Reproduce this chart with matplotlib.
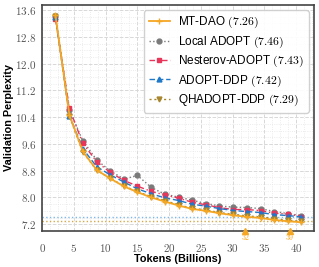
import matplotlib
matplotlib.use("Agg")
import matplotlib.pyplot as plt
from matplotlib.ticker import FuncFormatter, MultipleLocator, AutoMinorLocator

plt.rcParams['mathtext.fontset'] = 'cm'
plt.rcParams['font.family'] = ['Liberation Sans', 'DejaVu Sans']

# Данные (по картинке)
tokens = [2.1, 4.3, 6.4, 8.6, 10.7, 12.9, 15.0, 17.2, 19.3, 21.5,
          23.6, 25.8, 27.9, 30.1, 32.2, 34.4, 36.5, 38.7, 40.8]

mt_dao = [13.44, 10.47, 9.38, 8.82, 8.57, 8.33, 8.16, 8.00, 7.88, 7.76,
          7.66, 7.60, 7.53, 7.47, 7.42, 7.39, 7.33, 7.29, 7.26]
local_adopt = [13.42, 10.62, 9.70, 9.12, 8.80, 8.55, 8.66, 8.30, 8.10, 8.01,
               7.92, 7.82, 7.75, 7.71, 7.70, 7.67, 7.58, 7.52, 7.46]
nesterov = [13.33, 10.66, 9.62, 9.07, 8.75, 8.51, 8.34, 8.18, 8.08, 7.98,
            7.86, 7.78, 7.70, 7.64, 7.64, 7.61, 7.53, 7.51, 7.43]
adopt_ddp = [13.40, 10.45, 9.46, 8.92, 8.68, 8.46, 8.26, 8.11, 7.99, 7.91,
             7.80, 7.74, 7.67, 7.61, 7.58, 7.55, 7.49, 7.46, 7.42]
qhadopt = [13.42, 10.43, 9.36, 8.81, 8.58, 8.34, 8.18, 8.02, 7.91, 7.78,
           7.68, 7.63, 7.55, 7.50, 7.45, 7.42, 7.37, 7.32, 7.29]

series = [
    ("MT-DAO", mt_dao, 7.26),
    ("Local ADOPT", local_adopt, 7.46),
    ("Nesterov-ADOPT", nesterov, 7.43),
    ("ADOPT-DDP", adopt_ddp, 7.42),
    ("QHADOPT-DDP", qhadopt, 7.29),
]
styles = [
    dict(color='#F5A623', ls='-', marker='+', lw=1.3, ms=4, zorder=6),
    dict(color='#7A7A7A', ls=':', marker='o', lw=1.0, ms=3.5, zorder=3),
    dict(color='#E8365A', ls=(0, (4, 2, 1, 2)), marker='s', lw=1.0, ms=3.5, zorder=4),
    dict(color='#1F78C8', ls=(0, (4, 2)), marker='^', lw=1.0, ms=3.5, zorder=5),
    dict(color='#A8862E', ls=(0, (1.5, 2)), marker='v', lw=1.0, ms=3.5, zorder=5),
]

# отметки: где MT-DAO достигает финала других методов
ref_lines = [(7.42, '#7DB8E8'), (7.29, '#D4A94A')]
cross_tokens = [32, 39]

fig = plt.figure(figsize=(3.19, 2.67), dpi=100)
ax = fig.add_axes([0.132, 0.135, 0.852, 0.846])

for (name, vals, final), st in zip(series, styles):
    ax.plot(tokens, vals, label=f"{name} $({final:.2f})$", **st)

for yv, c in ref_lines:
    ax.axhline(yv, color=c, ls=':', lw=1.0, zorder=2)

for t in cross_tokens:
    ax.plot([t], [0], transform=ax.get_xaxis_transform(), marker='^',
            color='#F5A623', ms=4, clip_on=False, zorder=7)
    ax.text(t, -0.004, f"${t}$", transform=ax.get_xaxis_transform(),
            ha='center', va='top', fontsize=5.6, color='#F5A623')

ax.set_xlim(0, 42.8)
ax.set_ylim(7.0, 13.75)
ax.xaxis.set_major_locator(MultipleLocator(5))
ax.yaxis.set_major_locator(MultipleLocator(0.8))
ax.xaxis.set_minor_locator(AutoMinorLocator(4))
ax.yaxis.set_minor_locator(AutoMinorLocator(4))
ax.xaxis.set_major_formatter(FuncFormatter(lambda v, p: f"${v:.0f}$"))
ax.yaxis.set_major_formatter(FuncFormatter(lambda v, p: f"${v:.1f}$"))
ax.tick_params(axis='both', which='both', length=0, labelsize=8,
               labelcolor='#555555')
ax.tick_params(axis='x', pad=8)
ax.tick_params(axis='y', pad=4)

ax.grid(True, which='major', ls='--', color='#D8D8D8', lw=0.7)
ax.grid(True, which='minor', ls=':', color='#E6E6E6', lw=0.6)
ax.set_axisbelow(True)
for sp in ax.spines.values():
    sp.set_color('#444444')
    sp.set_linewidth(1.2)

ax.set_xlabel("Tokens (Billions)", fontsize=7.8, fontweight='bold', labelpad=0)
ax.set_ylabel("Validation Perplexity", fontsize=7.8, fontweight='bold', labelpad=1)

leg = ax.legend(loc='upper right', fontsize=8.5, frameon=True, fancybox=True,
                framealpha=0.9, edgecolor='#CCCCCC', handlelength=1.8,
                borderpad=0.4, labelspacing=0.35, handletextpad=0.7,
                borderaxespad=0.45)

fig.savefig("out.png", dpi=100)
